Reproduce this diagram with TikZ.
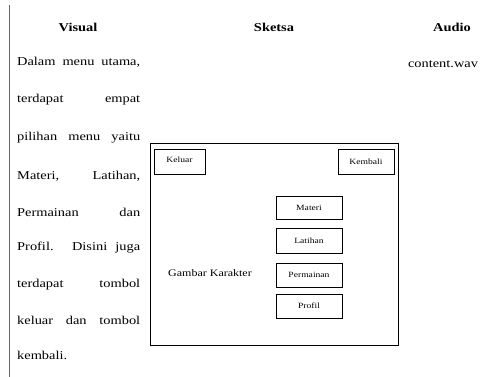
\documentclass[tikz,border=0pt]{standalone}
\usepackage{fontspec}
\setmainfont{Liberation Serif}[FakeStretch=1.2]
\begin{document}
\begin{tikzpicture}[x=1pt,y=-1pt,
  hdr/.style={font=\bfseries\fontsize{12}{14}\selectfont},
  body/.style={font=\fontsize{12}{14}\selectfont, anchor=west, inner sep=0pt},
  btn/.style={draw, line width=0.8pt, font=\fontsize{8}{9}\selectfont, inner sep=0pt},
  frame/.style={draw, line width=0.8pt}]
\useasboundingbox (0,0) rectangle (480,377);
\draw[line width=0.9pt, gray!80!black] (9,5) -- (9,377);
\node[hdr] (hv) at (78,27) {Visual};
\node[hdr] (hs) at (274,27) {Sketsa};
\node[hdr] (ha) at (452,27) {Audio};
\node[font=\fontsize{12}{14}\selectfont] (cw) at (443,64) {content.wav};
\node[body] (l1) at (17,62) {\makebox[123pt][s]{Dalam menu utama,}};
\node[body] (l2) at (17,100) {\makebox[123pt][s]{terdapat empat}};
\node[body] (l3) at (17,138) {\makebox[123pt][s]{pilihan menu yaitu}};
\node[body] (l4) at (17,176) {\makebox[123pt][s]{Materi, Latihan,}};
\node[body] (l5) at (17,212) {\makebox[123pt][s]{Permainan dan}};
\node[body] (l6) at (17,248) {\makebox[123pt][s]{Profil. Disini juga}};
\node[body] (l7) at (17,285) {\makebox[123pt][s]{terdapat tombol}};
\node[body] (l8) at (17,320) {\makebox[123pt][s]{keluar dan tombol}};
\node[body] (l9) at (17,355) {kembali.};
\draw[frame] (150,143) rectangle (398,345);
\node[btn, minimum width=51pt, minimum height=25pt, text depth=4pt] (kel) at (179.5,161.5) {Keluar};
\node[btn, minimum width=56pt, minimum height=25pt] (kem) at (366,161.5) {Kembali};
\node[btn, minimum width=66pt, minimum height=23pt] (mat) at (309,207.5) {Materi};
\node[btn, minimum width=66pt, minimum height=25pt] (lat) at (309,240.5) {Latihan};
\node[btn, minimum width=66pt, minimum height=24pt] (per) at (309,275) {Permainan};
\node[btn, minimum width=66pt, minimum height=24pt] (pro) at (309,306) {Profil};
\node[font=\fontsize{10}{12}\selectfont] (gk) at (210,273) {Gambar Karakter};
\end{tikzpicture}
\end{document}
